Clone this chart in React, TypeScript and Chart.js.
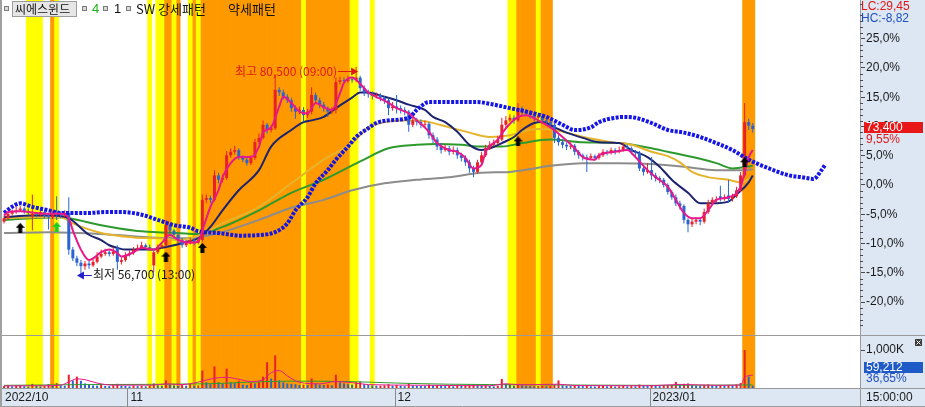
import { useEffect, useRef } from 'react';
import { Chart, registerables } from 'chart.js';

Chart.register(...registerables);

// ---------------- data ----------------
const STOCK_NAME = '씨에스윈드';
const SIGNAL_LABELS = ['4', '1'];
const PATTERN_LABELS = ['SW 강세패턴', '약세패턴'];
const BASE_PRICE = 67000; // price at 0,0%
const SLOT_COUNT = 212; // bar slots on the time axis (future slots included)

const OPEN = [
  62800, 63200, 63700, 63900, 64100, 64300, 64000, 63400, 63700, 63600,
  63900, 63500, 63300, 63700, 63600, 63500, 63800, 59600, 58600, 58100,
  57700, 58000, 57800, 58200, 58800, 59100, 59300, 59100, 59800, 58200,
  58400, 59000, 59200, 59600, 59800, 60100, 59900, 57800, 59300, 59900,
  60100, 62400, 61800, 61300, 60700, 60100, 60400, 60700, 60400, 60700,
  65300, 65500, 65300, 68100, 67600, 67800, 70400, 70800, 71000, 70200,
  69900, 69500, 70100, 71900, 72400, 73900, 73300, 73500, 77900, 77600,
  77100, 76700, 75800, 75400, 75600, 75000, 75400, 77300, 76700, 76200,
  75800, 75400, 75600, 78800, 79000, 78900, 79100, 79000, 79300, 78100,
  77600, 77400, 77200, 77300, 77000, 76700, 75800, 76000, 75800, 75600,
  75400, 73900, 74400, 74200, 73900, 74000, 72700, 72200, 71400, 71000,
  71200, 70800, 71000, 70400, 70100, 69600, 68900, 68500, 69600, 70400,
  71200, 71600, 71800, 72200, 73900, 74400, 74700, 74400, 75800, 75400,
  75200, 75000, 74700, 74900, 74400, 74200, 73900, 72400, 71900, 71600,
  71400, 71500, 70800, 70400, 70200, 70100, 70300, 70100, 70400, 70800,
  70700, 71000, 70800, 71000, 71400, 71200, 70800, 70700, 68900, 68500,
  68700, 68100, 67800, 67600, 67000, 66200, 65600, 64900, 64600, 63000,
  62500, 62800, 63000, 62800, 63900, 64900, 65300, 65700, 65500, 65800,
  65400, 65700, 66400, 68100, 74200, 73800,
];
const HIGH = [
  63500, 64000, 64200, 64500, 64600, 64500, 64300, 65900, 63900, 64200,
  64100, 63700, 64000, 65700, 64000, 64100, 65600, 59900, 58900, 58400,
  58300, 58300, 58600, 59300, 59600, 59700, 59500, 59900, 60100, 58700,
  59300, 59500, 59900, 60200, 60500, 60300, 60200, 59600, 60200, 60400,
  63000, 62600, 62000, 61500, 60900, 60700, 61000, 60900, 61000, 65900,
  65900, 65800, 68700, 68400, 68200, 70900, 71200, 71500, 71200, 70400,
  70100, 70400, 72300, 72900, 74400, 74100, 73900, 79600, 78200, 77900,
  77400, 77000, 76100, 76000, 75900, 75700, 78200, 77600, 77000, 76500,
  76000, 75900, 79300, 79400, 79300, 79500, 79400, 80500, 79500, 78400,
  77900, 77700, 77600, 77500, 77200, 77000, 76500, 77300, 76100, 75900,
  75600, 74800, 74700, 74500, 74400, 74200, 73000, 72500, 71800, 71600,
  71500, 71400, 71300, 70700, 70400, 69900, 69200, 69900, 70800, 71600,
  72000, 72200, 72600, 74700, 74900, 75100, 75000, 76400, 76000, 75700,
  75500, 75300, 75200, 75100, 74700, 74400, 74100, 72700, 72200, 71900,
  71900, 71700, 71000, 70600, 70500, 70600, 70500, 70700, 71100, 71000,
  71300, 71200, 71400, 71800, 71600, 71400, 71000, 70900, 69100, 69500,
  70200, 68400, 68000, 67800, 67200, 66400, 65900, 65200, 64800, 63200,
  63100, 63300, 63300, 64300, 65300, 65600, 65700, 66900, 65900, 67600,
  66000, 66800, 68500, 76400, 74600, 74100,
];
const LOW = [
  62600, 63000, 63500, 63700, 63900, 63700, 63500, 61800, 63300, 63400,
  63200, 61900, 63100, 63000, 63200, 63300, 59000, 58300, 57700, 56700,
  57300, 57400, 57600, 58000, 58600, 58900, 58800, 58900, 57300, 57900,
  58200, 58800, 59000, 59400, 59600, 59600, 59500, 57000, 59100, 59700,
  59900, 61500, 61000, 60400, 59800, 59900, 60200, 60100, 60200, 60500,
  64900, 64900, 65100, 67200, 67300, 67600, 70100, 70500, 69900, 69600,
  69200, 69300, 69900, 71700, 72200, 72900, 73000, 73300, 77200, 76800,
  76400, 75400, 74600, 75100, 74200, 74700, 75100, 76300, 75800, 75400,
  74800, 75100, 75200, 78500, 78600, 78700, 78700, 78800, 77800, 77200,
  77000, 76800, 76900, 76600, 76300, 75000, 75500, 75200, 75200, 75000,
  73100, 73600, 73800, 73500, 73600, 72300, 71800, 71000, 70600, 70800,
  70400, 70500, 70000, 69700, 69200, 68400, 67900, 68300, 69400, 70200,
  71000, 71400, 71600, 72000, 73600, 74200, 74000, 74200, 75000, 74900,
  74600, 74300, 74500, 74000, 73800, 73500, 71800, 71500, 71200, 71000,
  71100, 70400, 70000, 69800, 68500, 69900, 69800, 69900, 70200, 70400,
  70500, 70500, 70600, 70800, 70900, 70500, 70300, 68600, 68100, 68300,
  67600, 67400, 67200, 66700, 65900, 65300, 64600, 64200, 62600, 61600,
  62200, 62500, 62400, 62600, 63700, 64700, 65000, 65100, 65200, 65000,
  65100, 65500, 66200, 67900, 73300, 73000,
];
const CLOSE = [
  63200, 63700, 63900, 64100, 64300, 64000, 63800, 63700, 63600, 63900,
  63500, 63300, 63700, 63600, 63500, 63800, 59600, 58600, 58100, 57700,
  58000, 57800, 58200, 58800, 59100, 59300, 59100, 59400, 58200, 58400,
  59000, 59200, 59600, 59800, 60100, 59900, 59800, 59300, 59900, 60100,
  62400, 61800, 61300, 60700, 60100, 60400, 60700, 60400, 60700, 65300,
  65500, 65300, 68100, 67600, 67800, 70400, 70800, 71000, 70200, 69900,
  69500, 70100, 71900, 72400, 73900, 73300, 73500, 77900, 77600, 77100,
  76700, 75800, 75400, 75600, 75000, 75400, 77300, 76700, 76200, 75800,
  75400, 75600, 78800, 79000, 78900, 79100, 79000, 79300, 78100, 77600,
  77400, 77200, 77300, 77000, 76700, 75800, 76000, 75800, 75600, 75400,
  73900, 74400, 74200, 73900, 74000, 72700, 72200, 71400, 71000, 71200,
  70800, 71000, 70400, 70100, 69600, 68900, 68500, 69600, 70400, 71200,
  71600, 71800, 72200, 73900, 74400, 74700, 74400, 75800, 75400, 75200,
  75000, 74700, 74900, 74400, 74200, 73900, 72400, 71900, 71600, 71400,
  71500, 70800, 70400, 70200, 70100, 70300, 70100, 70400, 70800, 70700,
  71000, 70800, 71000, 71400, 71200, 70800, 70700, 68900, 68500, 68700,
  68100, 67800, 67600, 67000, 66200, 65600, 64900, 64600, 63000, 62500,
  62800, 63000, 62800, 63900, 64900, 65300, 65400, 65500, 65600, 65400,
  65700, 66400, 68100, 74200, 73800, 73400,
];
const VOLUME = [
  50000, 62000, 45000, 55000, 72000, 48000, 40000, 110000, 60000, 45000,
  52000, 100000, 58000, 130000, 70000, 62000, 350000, 200000, 300000, 190000,
  120000, 90000, 70000, 62000, 80000, 58000, 50000, 72000, 110000, 60000,
  55000, 45000, 62000, 50000, 56000, 45000, 60000, 120000, 70000, 60000,
  200000, 90000, 70000, 60000, 80000, 60000, 100000, 60000, 70000, 460000,
  150000, 100000, 570000, 150000, 120000, 510000, 150000, 130000, 190000, 90000,
  80000, 130000, 120000, 150000, 300000, 680000, 250000, 860000, 200000, 150000,
  120000, 110000, 100000, 80000, 90000, 80000, 250000, 120000, 90000, 80000,
  90000, 70000, 350000, 150000, 120000, 100000, 90000, 150000, 170000, 100000,
  80000, 70000, 60000, 60000, 70000, 100000, 60000, 80000, 60000, 50000,
  120000, 70000, 60000, 55000, 50000, 90000, 70000, 80000, 60000, 50000,
  60000, 45000, 70000, 55000, 60000, 80000, 90000, 70000, 60000, 65000,
  55000, 45000, 60000, 240000, 110000, 80000, 60000, 100000, 70000, 55000,
  50000, 45000, 50000, 55000, 45000, 50000, 90000, 200000, 70000, 55000,
  50000, 60000, 55000, 50000, 70000, 45000, 40000, 50000, 55000, 45000,
  50000, 40000, 45000, 55000, 45000, 50000, 45000, 90000, 70000, 60000,
  80000, 55000, 50000, 60000, 70000, 80000, 160000, 90000, 110000, 120000,
  70000, 60000, 55000, 80000, 90000, 70000, 60000, 75000, 55000, 80000,
  60000, 90000, 130000, 1000000, 300000, 59212,
];

// moving averages, read as [bar index, price]
const MA_PINK: [number, number][] = [
  [0, 63500], [1, 63900], [4, 64000], [8, 63800], [11, 63700], [14, 63700], [16, 63200], [17, 61800],
  [19, 59600], [21, 58400], [22, 58600], [24, 59300], [26, 59600], [28, 59200], [29, 58800], [32, 59300],
  [34, 59800], [37, 59600], [39, 60400], [41, 61300], [43, 60700], [46, 60400], [48, 60500], [49, 61800],
  [51, 64500], [53, 66400], [54, 67900], [56, 69500], [58, 70200], [61, 70200], [63, 71400], [64, 73000],
  [66, 73600], [68, 76000], [69, 77100], [71, 76400], [73, 75400], [75, 75200], [77, 76400], [79, 75900],
  [81, 75600], [83, 77500], [84, 78700], [86, 79300], [88, 78600], [90, 77600], [92, 77100], [95, 76400],
  [97, 75800], [100, 75200], [102, 74400], [105, 73100], [107, 71800], [110, 71000], [112, 70800], [114, 70100],
  [116, 68900], [118, 69300], [119, 70800], [122, 72200], [124, 73500], [127, 74800], [129, 75000], [132, 74400],
  [135, 73600], [138, 72500], [141, 71200], [143, 70200], [146, 69900], [147, 70400], [151, 70800], [154, 71000],
  [156, 70200], [159, 68700], [161, 67900], [164, 66800], [166, 65300], [168, 63800], [170, 63200], [172, 63200],
  [174, 64100], [176, 65300], [179, 65600], [182, 66800], [184, 70200], [185, 71000],
];
const MA_NAVY: [number, number][] = [
  [0, 63300], [7, 63500], [12, 63500], [16, 63200], [21, 61300], [24, 60700], [26, 60100], [28, 59800],
  [30, 59600], [34, 59600], [37, 59600], [39, 59800], [42, 60100], [45, 60500], [48, 60900], [51, 62200],
  [54, 64100], [58, 66400], [63, 68700], [66, 71400], [71, 73300], [74, 74200], [76, 74400], [79, 74800],
  [82, 75800], [86, 77000], [88, 77600], [90, 77600], [94, 77100], [97, 76700], [100, 76200], [104, 75600],
  [106, 74800], [109, 74200], [112, 73100], [115, 71600], [118, 71000], [120, 71200], [123, 71800], [126, 72500],
  [128, 73300], [131, 74100], [133, 74200], [136, 73600], [139, 73000], [143, 72400], [147, 71900], [152, 71800],
  [155, 71000], [159, 70200], [162, 69100], [165, 67600], [169, 66100], [172, 64900], [175, 64900], [179, 65100],
  [181, 65900], [184, 67300], [185, 68100],
];
const MA_GOLD: [number, number][] = [
  [0, 63200], [8, 63300], [14, 63300], [17, 62600], [24, 61500], [32, 61000], [38, 60900], [43, 60700],
  [48, 61200], [54, 62600], [63, 64500], [71, 67200], [79, 69900], [86, 71800], [90, 73600], [94, 74200],
  [98, 74400], [102, 74400], [105, 74200], [110, 73600], [115, 73000], [120, 72500], [125, 72700], [128, 73100],
  [132, 73400], [136, 73300], [139, 73000], [144, 72400], [150, 71900], [155, 71600], [160, 70800], [164, 70300],
  [167, 69600], [170, 68500], [174, 67900], [179, 67600], [182, 67300], [185, 67900],
];
const MA_GREEN: [number, number][] = [
  [0, 63000], [14, 63300], [17, 63100], [24, 62400], [32, 61800], [38, 61600], [43, 61500], [48, 61400],
  [54, 62200], [63, 64100], [71, 66100], [79, 67600], [88, 69700], [95, 71200], [102, 71600], [107, 71700],
  [113, 71600], [118, 71400], [123, 71400], [128, 71800], [135, 72200], [143, 71900], [152, 71800], [160, 71200],
  [164, 70800], [172, 70000], [176, 69500], [180, 68900], [185, 69200],
];
const MA_GREY: [number, number][] = [
  [0, 61500], [11, 61600], [24, 61400], [36, 61000], [45, 60900], [48, 61000], [54, 61600], [63, 63000],
  [71, 64400], [79, 65300], [86, 66400], [94, 67200], [102, 67600], [110, 67900], [118, 68400], [125, 68500],
  [131, 68900], [135, 69200], [143, 69500], [152, 69500], [160, 69400], [168, 69100], [176, 68700], [182, 68700],
  [185, 68800],
];
const MA_BLUE: [number, number][] = [
  [0, 63800], [2, 64500], [4, 64900], [7, 64500], [11, 64100], [14, 63800], [17, 63800], [21, 63800],
  [25, 63900], [29, 63900], [34, 63600], [38, 63000], [42, 62400], [46, 62100], [48, 61700], [53, 61500],
  [56, 61300], [58, 61200], [64, 61300], [67, 61600], [70, 62600], [72, 64100], [75, 65600], [77, 67200],
  [80, 68700], [82, 69900], [85, 71400], [87, 72500], [90, 73500], [92, 74100], [95, 74400], [100, 74700],
  [102, 75600], [105, 76500], [108, 76500], [112, 76500], [117, 76500], [120, 76300], [125, 75800], [130, 75300],
  [134, 74800], [138, 73900], [141, 73300], [145, 73600], [147, 74200], [151, 74700], [153, 74800], [156, 74700],
  [160, 74100], [164, 73300], [168, 73000], [172, 72500], [176, 71800], [180, 71000], [184, 69900], [189, 68900],
  [194, 68100], [197, 67900], [200, 67700], [202, 68700], [203, 69400],
];
const VOL_MA_SHORT: [number, number][] = [
  [0, 55000], [10, 60000], [14, 75000], [16, 160000], [18, 240000], [20, 220000], [23, 130000], [27, 75000],
  [37, 75000], [40, 110000], [44, 90000], [49, 180000], [52, 260000], [55, 280000], [58, 230000], [61, 170000],
  [64, 220000], [66, 400000], [68, 460000], [70, 320000], [73, 150000], [78, 110000], [82, 170000], [86, 140000],
  [90, 90000], [100, 75000], [120, 60000], [124, 110000], [128, 85000], [137, 100000], [141, 65000], [160, 60000],
  [167, 95000], [176, 70000], [182, 80000], [183, 280000], [185, 340000],
];
const VOL_MA_LONG: [number, number][] = [
  [0, 70000], [20, 90000], [50, 110000], [60, 150000], [70, 180000], [85, 170000], [97, 130000], [110, 100000],
  [130, 85000], [160, 70000], [185, 80000],
];

// pattern bands as [first bar, last bar]
const YELLOW_BANDS: [number, number][] = [
  [6, 9], [13, 13], [36, 36], [38, 39], [42, 42], [46, 46], [48, 48], [74, 74], [86, 87], [91, 91], [125, 126], [132, 132],
];
const ORANGE_BANDS: [number, number][] = [
  [12, 12], [40, 41], [43, 43], [47, 47], [49, 73], [75, 85], [127, 131], [133, 135], [183, 185],
];

// signal arrows as [bar index, price]
const SIGNAL_1: [number, number][] = [[4, 62100], [40, 58800], [49, 59800], [127, 72000], [183, 69600]];
const SIGNAL_4: [number, number][] = [[13, 62200]];

const PCT_TICKS = [25, 20, 15, 10, 5, 0, -5, -10, -15, -20];
const VOL_TICKS = [1000000];
const MONTHS: [number, string][] = [[0, '2022/10'], [31, '11'], [97, '12'], [160, '2023/01']];
const HIGH_TIME = '09:00';
const LOW_TIME = '13:00';
const VOL_RATIO = 36.65;
const CURSOR_TIME = '15:00:00';

// ---------------- layout / style ----------------
const W = 925;
const H = 407;
const LEFT_PAD = 2;
const AXIS_W = 65;
const STRIP_H = 19;
const PCT_TOP = 31.62;
const PCT_BOTTOM = -25.81;
const VOL_TOP = 1370000;
const SLOT_PX = (W - LEFT_PAD - AXIS_W) / SLOT_COUNT;

const UP = '#e8202a';
const DOWN = '#2a64d2';
const YELLOW = '#ffff00';
const ORANGE = '#ff9900';
const PANEL_BG = '#dde7f3';
const RED_TXT = '#e01818';
const BLUE_TXT = '#2050c0';
const FONT = '12px "Liberation Sans", "Noto Sans CJK KR", sans-serif';
const KFONT = '12px "Noto Sans CJK KR", "Liberation Sans", sans-serif';
const KFONT13 = '13px "Noto Sans CJK KR", "Liberation Sans", sans-serif';

const fmtNum = (v: number) => Math.round(v).toLocaleString('en-US');
const fmtDec = (v: number, d: number) => v.toFixed(d).replace('.', ',');

function expand(ranges: [number, number][]) {
  const out: number[] = [];
  ranges.forEach(([a, b]) => {
    for (let i = a; i <= b; i++) out.push(i);
  });
  return out;
}

function makeArrow(color: string) {
  const c = document.createElement('canvas');
  c.width = 9;
  c.height = 10;
  const g = c.getContext('2d')!;
  g.fillStyle = color;
  g.beginPath();
  g.moveTo(4.5, 0);
  g.lineTo(9, 5);
  g.lineTo(0, 5);
  g.closePath();
  g.fill();
  g.fillRect(2.5, 5, 4, 5);
  return c;
}

function txt(ctx: CanvasRenderingContext2D, s: string, x: number, y: number, color: string, align: CanvasTextAlign = 'left', font = FONT) {
  ctx.font = font;
  ctx.fillStyle = color;
  ctx.textAlign = align;
  ctx.textBaseline = 'middle';
  ctx.fillText(s, x, y);
}

const decor = {
  id: 'decor',
  beforeDraw(chart: any) {
    const { ctx, chartArea: a } = chart;
    ctx.save();
    ctx.fillStyle = '#ffffff';
    ctx.fillRect(0, 0, W, H);
    ctx.fillStyle = PANEL_BG;
    ctx.fillRect(a.right, 0, W - a.right, H);
    ctx.fillRect(0, a.bottom, W, H - a.bottom);
    ctx.restore();
  },
  afterDraw(chart: any) {
    const { ctx, chartArea: a } = chart;
    const xs = chart.scales.x;
    const ys = chart.scales.y;
    const yv = chart.scales.yv;
    ctx.save();

    // frame
    ctx.strokeStyle = '#9a9a9a';
    ctx.lineWidth = 1;
    const hl = (y: number, x0: number, x1: number) => {
      ctx.beginPath();
      ctx.moveTo(x0, Math.round(y) + 0.5);
      ctx.lineTo(x1, Math.round(y) + 0.5);
      ctx.stroke();
    };
    const vl = (x: number, y0: number, y1: number) => {
      ctx.beginPath();
      ctx.moveTo(Math.round(x) + 0.5, y0);
      ctx.lineTo(Math.round(x) + 0.5, y1);
      ctx.stroke();
    };
    hl(yv.top - 1, 0, W);
    hl(a.bottom, 0, W);
    hl(H - 1, 0, W);
    vl(a.right, 0, H);
    ctx.fillStyle = '#a0a0a0';
    ctx.fillRect(0, 0, 2, H);

    // minor ticks on the % axis
    ctx.strokeStyle = '#4a4a4a';
    for (let p = -25; p <= 31; p += 1) {
      if (p % 5 === 0) continue;
      const y = ys.getPixelForValue(BASE_PRICE * (1 + p / 100));
      ctx.beginPath();
      ctx.moveTo(a.right, Math.round(y) + 0.5);
      ctx.lineTo(a.right + 3, Math.round(y) + 0.5);
      ctx.stroke();
    }

    // time strip
    ctx.strokeStyle = '#8a8a8a';
    MONTHS.forEach(([start, label]) => {
      const px = xs.getPixelForValue(start - 0.5);
      if (start > 0) vl(px, a.bottom, H);
      txt(ctx, label, Math.max(px, 1) + 3, a.bottom + 10, '#1a1a1a');
    });
    txt(ctx, CURSOR_TIME, a.right + 6, a.bottom + 10, '#1a1a1a');

    // right panel readouts
    const last = CLOSE[CLOSE.length - 1];
    const hi = Math.max(...HIGH);
    const lo = Math.min(...LOW);
    txt(ctx, 'LC:' + fmtDec((last / lo - 1) * 100, 2), a.right + 1, 7, RED_TXT);
    txt(ctx, 'HC:' + fmtDec((last / hi - 1) * 100, 2), a.right + 1, 19, BLUE_TXT);
    const py = Math.round(ys.getPixelForValue(last));
    ctx.fillStyle = '#e81818';
    ctx.fillRect(a.right + 4, py - 7, 59, 11);
    txt(ctx, fmtNum(last), a.right + 6, py - 1.5, '#ffffff');
    txt(ctx, fmtDec((last / BASE_PRICE - 1) * 100, 2) + '%', a.right + 6, py + 11, RED_TXT);

    const vTop = yv.top;
    ctx.fillStyle = '#3c3c3c';
    ctx.fillRect(W - 10, vTop + 3, 7, 7);
    ctx.strokeStyle = '#ffffff';
    ctx.beginPath();
    ctx.moveTo(W - 8.5, vTop + 4.5);
    ctx.lineTo(W - 4.5, vTop + 8.5);
    ctx.moveTo(W - 4.5, vTop + 4.5);
    ctx.lineTo(W - 8.5, vTop + 8.5);
    ctx.stroke();
    ctx.fillStyle = '#1e5bc6';
    ctx.fillRect(a.right + 4, vTop + 26, 59, 11);
    txt(ctx, fmtNum(VOLUME[VOLUME.length - 1]), a.right + 6, vTop + 31.5, '#ffffff');
    txt(ctx, fmtDec(VOL_RATIO, 2) + '%', a.right + 6, vTop + 43, BLUE_TXT);

    // high / low notes
    const hiIdx = HIGH.indexOf(hi);
    const hx = xs.getPixelForValue(hiIdx) + 2;
    const hy = Math.round(ys.getPixelForValue(hi)) + 4.5;
    ctx.strokeStyle = RED_TXT;
    ctx.fillStyle = RED_TXT;
    ctx.beginPath();
    ctx.moveTo(hx - 20, hy);
    ctx.lineTo(hx - 4, hy);
    ctx.stroke();
    ctx.beginPath();
    ctx.moveTo(hx, hy);
    ctx.lineTo(hx - 7, hy - 4);
    ctx.lineTo(hx - 7, hy + 4);
    ctx.closePath();
    ctx.fill();
    txt(ctx, '최고 ' + fmtNum(hi) + ' (' + HIGH_TIME + ')', hx - 21, hy, RED_TXT, 'right', KFONT);

    const loIdx = LOW.indexOf(lo);
    const lx = xs.getPixelForValue(loIdx) - 4;
    const ly = Math.round(ys.getPixelForValue(lo)) + 0.5;
    ctx.strokeStyle = '#2020d0';
    ctx.fillStyle = '#2020d0';
    ctx.beginPath();
    ctx.moveTo(lx + 4, ly);
    ctx.lineTo(lx + 15, ly);
    ctx.stroke();
    ctx.beginPath();
    ctx.moveTo(lx, ly);
    ctx.lineTo(lx + 7, ly - 4);
    ctx.lineTo(lx + 7, ly + 4);
    ctx.closePath();
    ctx.fill();
    txt(ctx, '최저 ' + fmtNum(lo) + ' (' + LOW_TIME + ')', lx + 16, ly - 1, '#141414', 'left', KFONT);

    // legend
    const sq = (x: number) => {
      ctx.fillStyle = '#7c7c7c';
      ctx.fillRect(x, 6, 5, 5);
      ctx.fillStyle = '#d8d8d8';
      ctx.fillRect(x + 1, 7, 3, 3);
    };
    sq(4);
    ctx.fillStyle = '#e6e6e6';
    ctx.fillRect(12, 1, 65, 16);
    ctx.strokeStyle = '#9c9c9c';
    ctx.strokeRect(12.5, 1.5, 64, 15);
    txt(ctx, STOCK_NAME, 15, 9.5, '#111111', 'left', KFONT);
    sq(82);
    txt(ctx, SIGNAL_LABELS[0], 92, 9.5, '#18b418', 'left', '13px "Liberation Sans", sans-serif');
    sq(103);
    txt(ctx, SIGNAL_LABELS[1], 114, 9.5, '#111111', 'left', '13px "Liberation Sans", sans-serif');
    sq(126);
    txt(ctx, PATTERN_LABELS[0], 136, 9.5, '#111111', 'left', KFONT13);
    txt(ctx, PATTERN_LABELS[1], 228, 9.5, '#111111', 'left', KFONT13);

    ctx.restore();
  },
};

export default function App() {
  const ref = useRef<HTMLCanvasElement | null>(null);

  useEffect(() => {
    const canvas = ref.current;
    if (!canvas) return;
    const idx = CLOSE.map((_, i) => i);
    const candleColors = idx.map((i) => (CLOSE[i] >= OPEN[i] ? UP : DOWN));
    const volColors = idx.map((i) => (i === 0 || VOLUME[i] >= VOLUME[i - 1] ? UP : DOWN));
    const yMin = BASE_PRICE * (1 + PCT_BOTTOM / 100);
    const yMax = BASE_PRICE * (1 + PCT_TOP / 100);
    const arrowBlack = makeArrow('#000000');
    const arrowGreen = makeArrow('#22cc22');

    const band = (ranges: [number, number][], color: string, axis: string, lo: number, hi: number) => ({
      type: 'bar',
      xAxisID: 'x',
      yAxisID: axis,
      data: expand(ranges).map((i) => ({ x: i, y: [lo, hi] })),
      backgroundColor: color,
      grouped: false,
      barThickness: SLOT_PX,
      inflateAmount: 0.4,
      order: 100,
    });
    const line = (pts: [number, number][], color: string, width: number, order: number, axis = 'y', extra: any = {}) => ({
      type: 'line',
      xAxisID: 'x',
      yAxisID: axis,
      data: pts.map(([x, y]) => ({ x, y })),
      borderColor: color,
      borderWidth: width,
      pointRadius: 0,
      cubicInterpolationMode: 'monotone',
      fill: false,
      order,
      ...extra,
    });

    const datasets: any[] = [
      band(YELLOW_BANDS, YELLOW, 'y', yMin, yMax),
      band(ORANGE_BANDS, ORANGE, 'y', yMin, yMax),
      band(YELLOW_BANDS, YELLOW, 'yv', 0, VOL_TOP),
      band(ORANGE_BANDS, ORANGE, 'yv', 0, VOL_TOP),
      {
        type: 'bar',
        xAxisID: 'x',
        yAxisID: 'yv',
        data: idx.map((i) => ({ x: i, y: VOLUME[i] })),
        backgroundColor: volColors,
        grouped: false,
        barThickness: 2,
        inflateAmount: 0,
        order: 90,
      },
      line(VOL_MA_LONG, '#2e9a2e', 1, 85, 'yv'),
      line(VOL_MA_SHORT, '#e6198c', 1, 84, 'yv'),
      line(MA_GREY, '#8c8c8c', 2, 80),
      line(MA_GREEN, '#2e9a2e', 2, 79),
      line(MA_GOLD, '#e6b42c', 2, 78),
      line(MA_NAVY, '#1c2470', 2, 77),
      {
        type: 'bar',
        xAxisID: 'x',
        yAxisID: 'y',
        data: idx.map((i) => ({ x: i, y: [LOW[i], HIGH[i]] })),
        backgroundColor: candleColors,
        grouped: false,
        barThickness: 1,
        inflateAmount: 0,
        order: 60,
      },
      {
        type: 'bar',
        xAxisID: 'x',
        yAxisID: 'y',
        data: idx.map((i) => ({ x: i, y: [OPEN[i], CLOSE[i]] })),
        backgroundColor: candleColors,
        grouped: false,
        barThickness: 3,
        inflateAmount: 0,
        order: 59,
      },
      line(MA_BLUE, '#1515e6', 4, 50, 'y', { borderDash: [3, 1.4], borderCapStyle: 'butt' }),
      line(MA_PINK, '#e6198c', 2, 45),
      {
        type: 'line',
        xAxisID: 'x',
        yAxisID: 'y',
        showLine: false,
        data: SIGNAL_1.map(([x, y]) => ({ x, y })),
        pointStyle: arrowBlack,
        pointRadius: 5,
        order: 5,
      },
      {
        type: 'line',
        xAxisID: 'x',
        yAxisID: 'y',
        showLine: false,
        data: SIGNAL_4.map(([x, y]) => ({ x, y })),
        pointStyle: arrowGreen,
        pointRadius: 5,
        order: 5,
      },
    ];

    const axisCommon = {
      type: 'linear',
      position: 'right',
      stack: 'panes',
      afterFit: (s: any) => {
        s.width = AXIS_W;
        s.paddingTop = 0;
        s.paddingBottom = 0;
      },
      grid: { drawOnChartArea: false, drawTicks: true, tickLength: 5, tickColor: '#4a4a4a' },
      border: { display: true, color: '#8c8c8c' },
    };

    const chart = new Chart(canvas, {
      type: 'bar',
      data: { datasets },
      options: {
        animation: false,
        responsive: false,
        devicePixelRatio: 1,
        events: [],
        layout: { autoPadding: false, padding: { left: LEFT_PAD, right: 0, top: 0, bottom: STRIP_H } },
        plugins: { legend: { display: false }, tooltip: { enabled: false } },
        scales: {
          x: {
            type: 'linear',
            min: -0.5,
            max: SLOT_COUNT - 0.5,
            display: false,
            offset: false,
            grid: { display: false, offset: false },
          },
          y: {
            ...axisCommon,
            stackWeight: 336,
            weight: 1,
            min: yMin,
            max: yMax,
            afterBuildTicks: (s: any) => {
              s.ticks = PCT_TICKS.map((p) => ({ value: BASE_PRICE * (1 + p / 100) }));
            },
            ticks: {
              autoSkip: false,
              padding: 1,
              color: '#1a1a1a',
              font: { family: '"Liberation Sans"', size: 12 },
              callback: (v: any) => fmtDec((Number(v) / BASE_PRICE - 1) * 100, 1) + '%',
            },
          },
          yv: {
            ...axisCommon,
            stackWeight: 52,
            weight: 2,
            min: 0,
            max: VOL_TOP,
            afterBuildTicks: (s: any) => {
              s.ticks = VOL_TICKS.map((v) => ({ value: v }));
            },
            ticks: {
              autoSkip: false,
              padding: 1,
              color: '#1a1a1a',
              font: { family: '"Liberation Sans"', size: 12 },
              callback: (v: any) => fmtNum(Number(v) / 1000) + 'K',
            },
          },
        },
      } as any,
      plugins: [decor as any],
    } as any);

    return () => chart.destroy();
  }, []);

  return (
    <div style={{ position: 'absolute', left: 0, top: 0, width: W, height: H }}>
      <canvas ref={ref} width={W} height={H} style={{ display: 'block', width: W, height: H }} />
    </div>
  );
}
